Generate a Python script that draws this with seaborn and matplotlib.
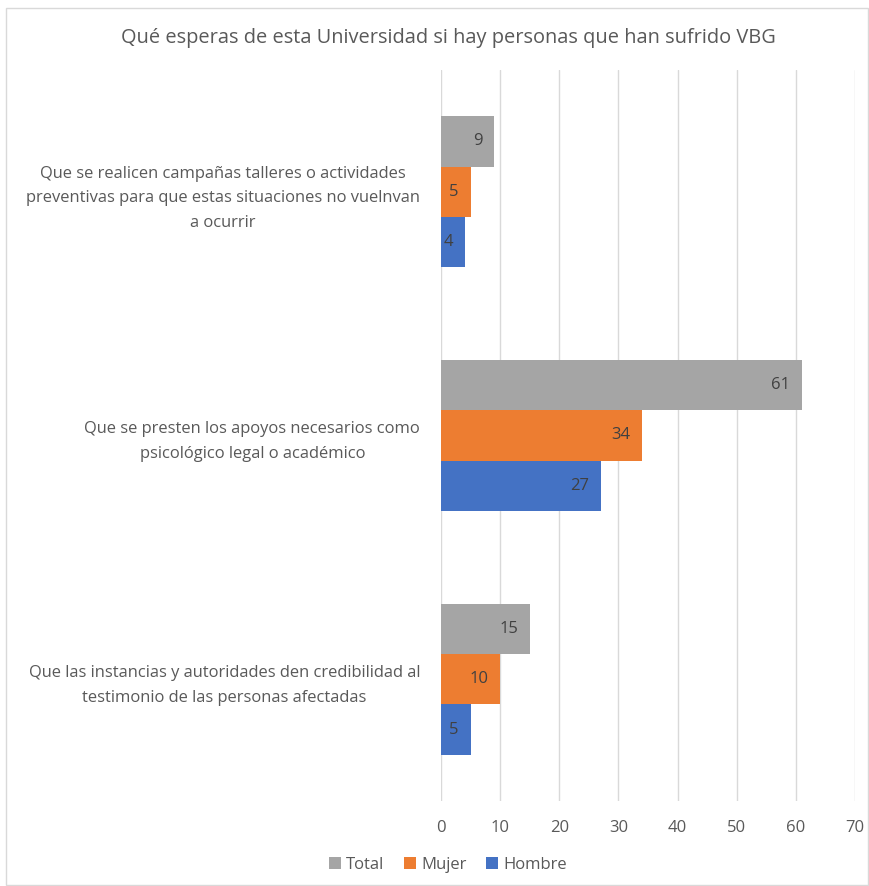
import matplotlib
matplotlib.use("Agg")
import matplotlib.pyplot as plt
import seaborn as sns
import pandas as pd
from matplotlib.patches import Rectangle

categories = [
    "Que se realicen campañas talleres o actividades\npreventivas para que estas situaciones no vuelnvan\na ocurrir",
    "Que se presten los apoyos necesarios como\npsicológico legal o académico",
    "Que las instancias y autoridades den credibilidad al\ntestimonio de las personas afectadas",
]
series_names = ["Total", "Mujer", "Hombre"]
total = [9, 61, 15]
mujer = [5, 34, 10]
hombre = [4, 27, 5]
colors = ["#A5A5A5", "#ED7D31", "#4472C4"]
xticks = [0, 10, 20, 30, 40, 50, 60, 70]
title = "Qué esperas de esta Universidad si hay personas que han sufrido VBG"

rows = []
for name, vals in zip(series_names, [total, mujer, hombre]):
    for c, v in zip(categories, vals):
        rows.append({"cat": c, "serie": name, "valor": v})
df = pd.DataFrame(rows)

sns.set_theme(style="white")
FONT = ["Open Sans", "DejaVu Sans"]
plt.rcParams["font.family"] = FONT
txt = "#595959"

fig = plt.figure(figsize=(8.69, 8.86), dpi=100)
ax = fig.add_axes([441 / 869, 85 / 886, 414 / 869, 731 / 886])

sns.barplot(data=df, y="cat", x="valor", hue="serie", order=categories,
            hue_order=series_names, palette=colors, width=0.62, orient="h",
            ax=ax, saturation=1, legend=True, edgecolor="none")

ax.set_xlim(0, 70)
ax.set_xticks(xticks)
ax.set_xticklabels([str(t) for t in xticks])
ax.xaxis.grid(True, color="#D9D9D9", linewidth=1)
ax.set_axisbelow(True)
for s in ax.spines.values():
    s.set_visible(False)
ax.set_xlabel("")
ax.set_ylabel("")
ax.tick_params(axis="x", length=0, pad=14, labelsize=12, labelcolor=txt)
ax.tick_params(axis="y", length=0, pad=15, labelsize=11.9, labelcolor=txt)
for lab in ax.get_yticklabels():
    lab.set_multialignment("center")
    lab.set_linespacing(1.72)

for cont in ax.containers:
    for p in cont.patches:
        w = p.get_width()
        ax.annotate(f"{w:g}", xy=(w, p.get_y() + p.get_height() / 2),
                    xytext=(-8.5, 0), textcoords="offset points",
                    ha="right", va="center", fontsize=12, color="#404040")

leg = ax.legend(loc="center", bbox_to_anchor=(448 / 869, 21 / 886),
                bbox_transform=fig.transFigure, ncol=3, frameon=False,
                fontsize=12, handlelength=0.7, handleheight=0.7,
                handletextpad=0.3, columnspacing=1.2, labelcolor=txt)

fig.text(448 / 869, 1 - 38 / 886, title, ha="center", va="center",
         fontsize=14.4, color=txt)

fig.patches.append(Rectangle((6 / 869, 1 / 886), 862 / 869, 877 / 886,
                             transform=fig.transFigure, fill=False,
                             edgecolor="#D9D9D9", linewidth=1))

fig.savefig("out.png", dpi=100, facecolor="white")
